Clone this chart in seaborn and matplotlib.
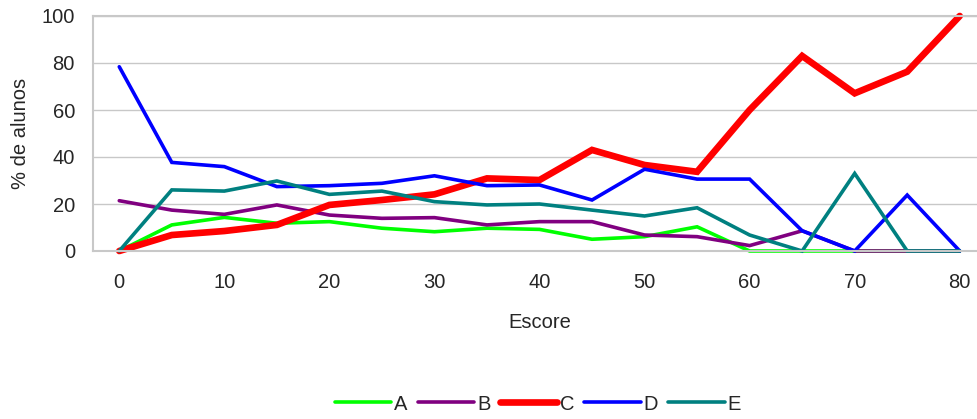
import matplotlib
matplotlib.use('Agg')
from matplotlib import pyplot as plt
from matplotlib.lines import Line2D
import pandas as pd
import seaborn as sns

escore = list(range(0, 85, 5))
a = [0, 11.1, 14.3, 11.8, 12.5, 9.7, 8.2, 9.7, 9.2, 5.0, 6.1, 10.3, 0, 0, 0, 0, 0]
b = [21.4, 17.4, 15.6, 19.6, 15.3, 13.9, 14.2, 11.1, 12.5, 12.5, 6.8, 6.1, 2.3, 8.6, 0, 0, 0]
c = [0, 6.8, 8.5, 11.1, 19.6, 21.7, 24.1, 30.9, 30.2, 43.0, 36.6, 33.7, 60.0, 83.0, 67.1, 76.3, 100]
d = [78.4, 37.7, 35.9, 27.4, 27.8, 28.8, 32.0, 27.8, 28.1, 21.7, 34.8, 30.6, 30.6, 8.6, 0, 23.8, 0]
e = [0, 26.0, 25.5, 29.8, 24.1, 25.5, 21.0, 19.6, 20.0, 17.4, 14.9, 18.4, 6.8, 0, 33.0, 0, 0]
series = ['A', 'B', 'C', 'D', 'E']
colors = {'A': '#00ff00', 'B': '#800080', 'C': '#ff0000', 'D': '#0000ff', 'E': '#008080'}
widths = {'A': 2.6, 'B': 2.6, 'C': 4.8, 'D': 2.6, 'E': 2.6}

rows = []
for name, vals in zip(series, [a, b, c, d, e]):
    for x, v in zip(escore, vals):
        rows.append({'Escore': x, 'pct': v, 'serie': name})
df = pd.DataFrame(rows)

sns.set_style('white')
plt.rcParams['font.family'] = ['Liberation Sans', 'DejaVu Sans']
fs = 14.5

fig = plt.figure(figsize=(9.78, 4.19), dpi=100)
ax = fig.add_axes([93 / 978, (419 - 251) / 419, (986 - 93) / 978, (251 - 16) / 419])

sns.lineplot(data=df, x='Escore', y='pct', hue='serie', hue_order=series,
             palette=colors, legend=False, ax=ax)
for line, name in zip(ax.get_lines(), series):
    line.set_linewidth(widths[name])
    line.set_solid_capstyle('round')
    line.set_solid_joinstyle('miter')
    line.set_clip_on(False)

grid = '#c8c8c8'
ax.set_xlim(-2.5, 82.5)
ax.set_ylim(0, 100)
ax.set_yticks(range(0, 101, 20))
ax.yaxis.grid(True, color=grid, linewidth=1)
ax.set_axisbelow(True)
ax.set_xticks(range(0, 81, 10))
ax.set_xticks([-2.5 + 10 * k for k in range(9)], minor=True)
ax.tick_params(axis='x', which='major', length=0, pad=16, labelsize=fs)
ax.tick_params(axis='x', which='minor', length=5, color=grid, width=1, direction='out')
ax.tick_params(axis='y', length=5, color=grid, width=1, direction='out', pad=8, labelsize=fs)
for s in ['left', 'bottom', 'top']:
    ax.spines[s].set_color(grid)
    ax.spines[s].set_linewidth(1.5)
ax.spines['right'].set_visible(False)

ax.set_xlabel('Escore', fontsize=fs, labelpad=15)
ax.set_ylabel('% de alunos', fontsize=fs, labelpad=8)

handles = [Line2D([0], [0], color=colors[n], lw=widths[n], solid_capstyle='round') for n in series]
fig.legend(handles, series, loc='center', bbox_to_anchor=(538 / 978, 1 - 404 / 419),
           ncol=5, frameon=False, fontsize=fs, handlelength=2.8,
           handletextpad=0.15, columnspacing=0.5)

fig.savefig('out.png', dpi=100)
